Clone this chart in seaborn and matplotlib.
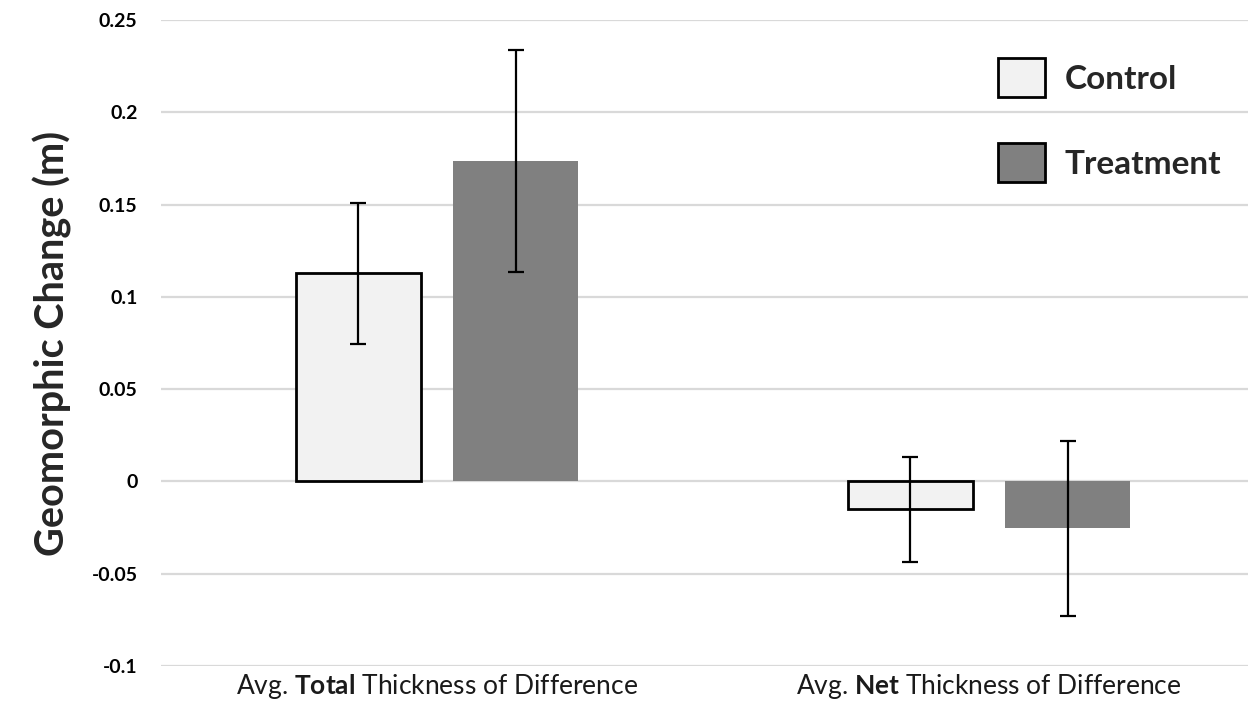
import matplotlib
matplotlib.use("Agg")
import matplotlib.pyplot as plt
from matplotlib.patches import Patch
import numpy as np
import pandas as pd
import seaborn as sns

# Summary values (metres)
categories = ["Avg. $\\bf{Total}$ Thickness of Difference",
              "Avg. $\\bf{Net}$ Thickness of Difference"]
groups = ["Control", "Treatment"]
control_mean = [0.1127, -0.0152]
treatment_mean = [0.1735, -0.0255]
control_err = [0.0381, 0.0285]
treatment_err = [0.0601, 0.0472]
yticks = [-0.1, -0.05, 0, 0.05, 0.1, 0.15, 0.2, 0.25]
ytick_labels = ["-0.1", "-0.05", "0", "0.05", "0.1", "0.15", "0.2", "0.25"]

colors = {"Control": "#F2F2F2", "Treatment": "#808080"}

df = pd.DataFrame({
    "metric": categories * 2,
    "group": ["Control"] * 2 + ["Treatment"] * 2,
    "value": control_mean + treatment_mean,
    "err": control_err + treatment_err,
})

sns.set_theme(style="white")
plt.rcParams["font.family"] = ["Lato", "DejaVu Sans"]
plt.rcParams["mathtext.fontset"] = "custom"
plt.rcParams["mathtext.rm"] = "Lato"
plt.rcParams["mathtext.bf"] = "Lato:bold"

fig = plt.figure(figsize=(12.48, 7.02), dpi=100)
ax = fig.add_axes([161 / 1248, 1 - 666 / 702, (1248 - 161) / 1248, (666 - 20) / 702])

sns.barplot(data=df, x="metric", y="value", hue="group", order=categories,
            hue_order=groups, palette=colors, width=0.571, gap=0.209,
            errorbar=None, legend=False, ax=ax, zorder=3)

# style bars and add error bars
for container, grp in zip(ax.containers, groups):
    sub = df[df["group"] == grp].set_index("metric").loc[categories]
    for bar, (val, err) in zip(container.patches, zip(sub["value"], sub["err"])):
        if grp == "Control":
            bar.set_edgecolor("black")
            bar.set_linewidth(2.0)
        else:
            bar.set_edgecolor("none")
            bar.set_linewidth(0)
        cx = bar.get_x() + bar.get_width() / 2
        ax.errorbar(cx, val, yerr=err, color="black", elinewidth=1.6,
                    capsize=5.5, capthick=1.6, zorder=4)

ax.set_ylim(-0.1, 0.25)
ax.set_xlim(-0.5, -0.5 + 1087 / 552)
ax.set_yticks(yticks)
ax.set_yticklabels(ytick_labels, fontweight="bold", fontsize=14)
ax.yaxis.grid(True, color="#D9D9D9", linewidth=1.6, zorder=0)
ax.set_axisbelow(True)
for s in ax.spines.values():
    s.set_visible(False)
ax.tick_params(axis="both", length=0, colors="black")
ax.tick_params(axis="y", pad=17)
ax.tick_params(axis="x", pad=4, labelsize=19)
ax.set_xlabel("")
ax.set_ylabel("Geomorphic Change (m)", fontsize=28.5, fontweight="bold", labelpad=14)
for lbl in ax.get_xticklabels():
    lbl.set_color("#1a1a1a")

handles = [Patch(facecolor=colors[g], edgecolor="black", linewidth=2.0, label=g)
           for g in groups]
leg = ax.legend(handles=handles, loc="upper right", bbox_to_anchor=(0.997, 0.977),
                frameon=False, prop={"weight": "bold", "size": 24},
                handlelength=1.4, handleheight=1.4, handletextpad=0.6,
                labelspacing=1.4, borderaxespad=0.3)

fig.savefig("out.png", dpi=100)
